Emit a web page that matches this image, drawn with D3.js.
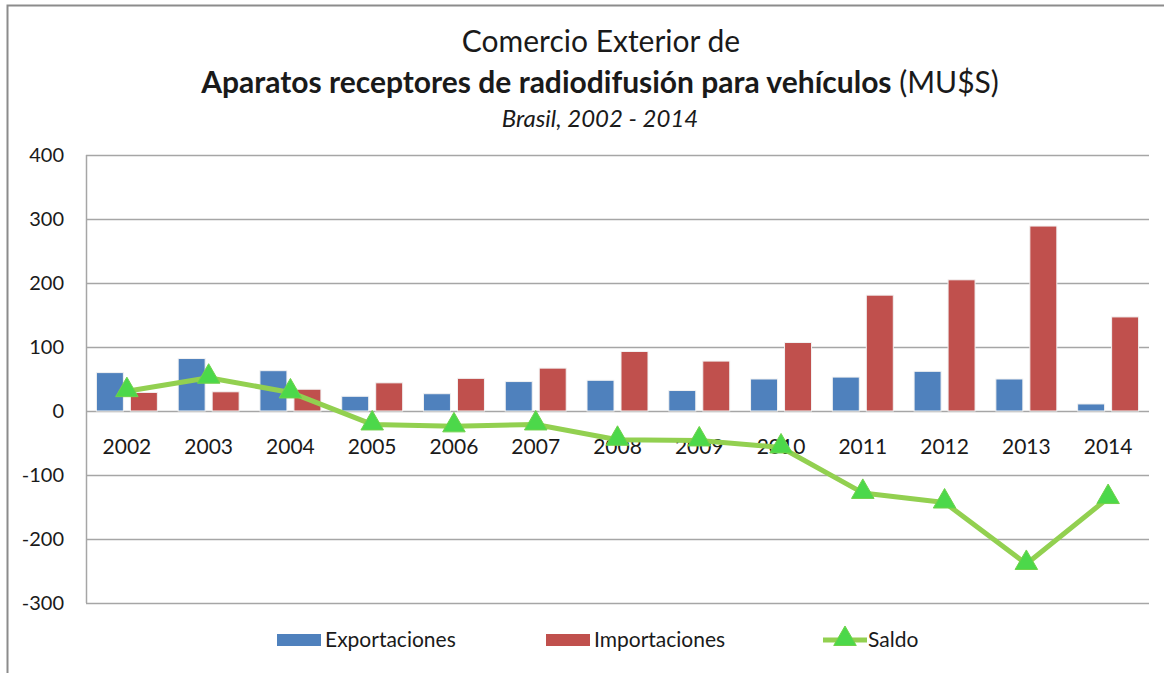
<!DOCTYPE html>
<html>
<head>
<meta charset="utf-8">
<script src="https://cdn.jsdelivr.net/npm/d3@7"></script>
<style>
body{margin:0;background:#fff;}
text{font-family:Lato,"Open Sans",sans-serif;fill:#1a1a1a;}
</style>
</head>
<body>
<script>
var years = ["2002","2003","2004","2005","2006","2007","2008","2009","2010","2011","2012","2013","2014"];
var exportaciones = [60,82,63,23,27,46,48,32,50,53,62,50,11];
var importaciones = [29,30,34,44,51,67,93,78,107,181,205,289,147];
var saldo = [31,52,29,-21,-24,-21,-45,-46,-57,-128,-143,-239,-136];
var yTicks = [400,300,200,100,0,-100,-200,-300];

var width = 1164, height = 673;

var svg = d3.select("body").append("svg").attr("width",width).attr("height",height);

// outer chart border
svg.append("rect").attr("x",7.5).attr("y",5.5).attr("width",1160).attr("height",700)
   .attr("fill","none").attr("stroke","#8c8c8c").attr("stroke-width",2);

// titles
svg.append("text").attr("x",601).attr("y",52).attr("text-anchor","middle")
   .attr("font-size",30).text("Comercio Exterior de");
var t2 = svg.append("text").attr("x",600).attr("y",93).attr("text-anchor","middle").attr("font-size",30);
t2.append("tspan").attr("font-weight","bold").text("Aparatos receptores de radiodifusión para vehículos");
t2.append("tspan").text(" (MU$S)");
svg.append("text").attr("x",600).attr("y",127).attr("text-anchor","middle")
   .attr("font-size",24).attr("font-style","italic").text("Brasil, 2002 - 2014");

var x0 = d3.scaleBand().domain(years).range([86,1149]);
var x1 = d3.scaleBand().domain(["exp","imp"]).range([0,x0.bandwidth()])
           .paddingInner(0.206).paddingOuter(0.306);
var y = d3.scaleLinear().domain([-300,400]).range([603,155]);

var chartGroup = svg.append("g");

// gridlines
chartGroup.selectAll("line.grid").data(yTicks).enter().append("line")
   .attr("class","grid")
   .attr("x1",86).attr("x2",1149)
   .attr("y1",function(d){return Math.round(y(d))+0.5;})
   .attr("y2",function(d){return Math.round(y(d))+0.5;})
   .attr("stroke","#a6a6a6").attr("stroke-width",1.5);
chartGroup.append("line").attr("x1",86.5).attr("x2",86.5).attr("y1",155).attr("y2",603)
   .attr("stroke","#a6a6a6").attr("stroke-width",1.5);

// y axis labels
chartGroup.selectAll("text.ytick").data(yTicks).enter().append("text")
   .attr("class","ytick")
   .attr("x",64).attr("y",function(d){return y(d);})
   .attr("dy","0.35em").attr("text-anchor","end").attr("font-size",20)
   .text(function(d){return d;});

// bars
var barData = years.map(function(yr,i){
    return [{k:"exp",yr:yr,v:exportaciones[i]},{k:"imp",yr:yr,v:importaciones[i]}];
});
var colors = {exp:"#4f81bd",imp:"#c0504d"};
chartGroup.selectAll("g.year").data(barData).enter().append("g")
   .attr("class","year")
   .attr("transform",function(d){return "translate("+x0(d[0].yr)+",0)";})
   .selectAll("rect").data(function(d){return d;}).enter().append("rect")
   .attr("x",function(d){return x1(d.k);})
   .attr("width",x1.bandwidth())
   .attr("y",function(d){return y(Math.max(0,d.v));})
   .attr("height",function(d){return Math.abs(y(d.v)-y(0));})
   .attr("fill",function(d){return colors[d.k];})
   .attr("stroke","#f2f2f2").attr("stroke-width",1);

// x labels
chartGroup.selectAll("text.xtick").data(years).enter().append("text")
   .attr("class","xtick")
   .attr("x",function(d){return x0(d)+x0.bandwidth()/2;})
   .attr("y",447).attr("dy","0.35em").attr("text-anchor","middle").attr("font-size",21)
   .text(function(d){return d;});

// saldo line
var line = d3.line()
   .x(function(d,i){return x0(years[i])+x0.bandwidth()/2;})
   .y(function(d){return y(d);});
chartGroup.append("path").attr("d",line(saldo))
   .attr("fill","none").attr("stroke","#92d050").attr("stroke-width",5)
   .attr("stroke-linejoin","round");

var tri = d3.symbol().type(d3.symbolTriangle).size(220);
chartGroup.selectAll("path.mark").data(saldo).enter().append("path")
   .attr("class","mark")
   .attr("d",tri)
   .attr("transform",function(d,i){return "translate("+(x0(years[i])+x0.bandwidth()/2)+","+(y(d)-1)+")";})
   .attr("fill","#4cd84a").attr("stroke","#6fd24a").attr("stroke-width",1);

// legend
var leg = svg.append("g");
leg.append("rect").attr("x",277).attr("y",634).attr("width",44).attr("height",12).attr("fill",colors.exp);
leg.append("text").attr("x",325).attr("y",640).attr("dy","0.35em").attr("font-size",21).text("Exportaciones");
leg.append("rect").attr("x",546).attr("y",634).attr("width",44).attr("height",12).attr("fill",colors.imp);
leg.append("text").attr("x",594).attr("y",640).attr("dy","0.35em").attr("font-size",21).text("Importaciones");
leg.append("line").attr("x1",823).attr("x2",867).attr("y1",640).attr("y2",640)
   .attr("stroke","#92d050").attr("stroke-width",5);
leg.append("path").attr("d",tri).attr("transform","translate(845,639)")
   .attr("fill","#4cd84a").attr("stroke","#6fd24a");
leg.append("text").attr("x",868).attr("y",640).attr("dy","0.35em").attr("font-size",21).text("Saldo");
</script>
</body>
</html>
